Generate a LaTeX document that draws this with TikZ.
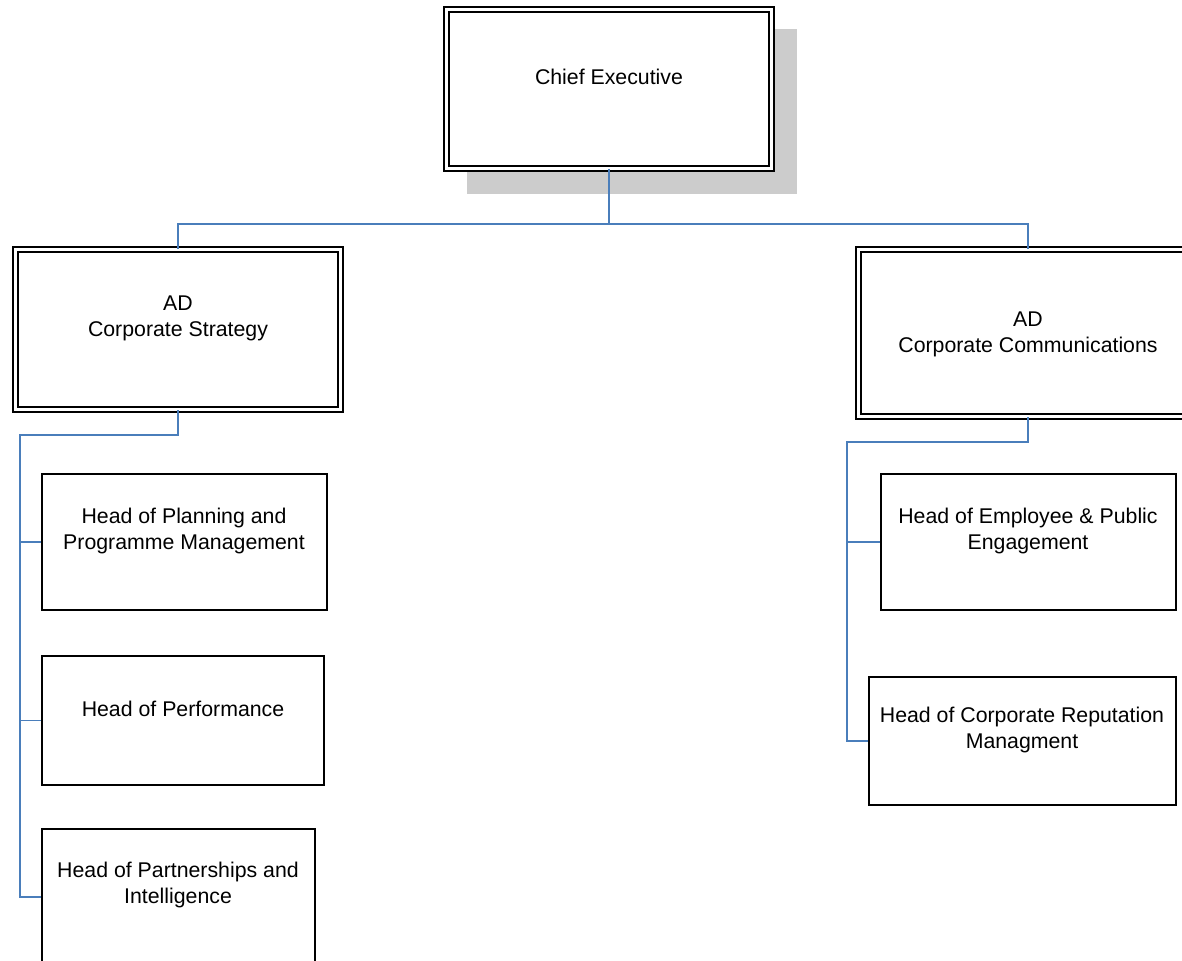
\documentclass[tikz,border=0pt]{standalone}
\usepackage{fontspec}
\setmainfont{Liberation Sans}
\begin{document}
\begin{tikzpicture}[x=0.5pt,y=-0.5pt,
  conn/.style={draw=linkblue,line width=0.75pt},
  dbox/.style={draw=black,line width=0.9pt,double=white,double distance=1.6pt,fill=white,inner sep=0pt},
  sbox/.style={draw=black,line width=0.9pt,fill=white,inner sep=0pt},
  lbl/.style={align=center,inner sep=0pt,font=\fontsize{10.65}{13}\selectfont}]
\definecolor{linkblue}{RGB}{74,126,187}
\definecolor{shadowgray}{RGB}{204,204,204}
\useasboundingbox (0,0) rectangle (1182,960);
\clip (0,0) rectangle (1182,960);
% shadow of top box
\fill[shadowgray] (467,29) rectangle (797,194);
% boxes
\node[dbox,minimum width=162.5pt,minimum height=79.5pt] (ce) at (609,89) {};
\node[dbox,minimum width=162.5pt,minimum height=80pt] (as) at (178,329.5) {};
\node[dbox,minimum width=169.5pt,minimum height=83.5pt] (ac) at (1028,333) {};
\node[sbox,minimum width=142.5pt,minimum height=68pt] (pl) at (184.5,542) {};
\node[sbox,minimum width=141pt,minimum height=64.5pt] (pf) at (183,720.5) {};
\node[sbox,minimum width=136.5pt,minimum height=68pt] (pi) at (178.5,897) {};
\node[sbox,minimum width=147.5pt,minimum height=68pt] (ee) at (1028.5,542) {};
\node[sbox,minimum width=153.5pt,minimum height=64pt] (cr) at (1022.5,741) {};
% texts
\node[lbl] (tce) at (609,76.5) {Chief Executive};
\node[lbl] (tas) at (178,318) {AD\\Corporate Strategy};
\node[lbl] (tac) at (1028,334) {AD\\Corporate Communications};
\node[lbl] (tpl) at (184,531) {Head of Planning and\\Programme Management};
\node[lbl] (tpf) at (183,708.5) {Head of Performance};
\node[lbl] (tpi) at (178,884.5) {Head of Partnerships and\\Intelligence};
\node[lbl] (tee) at (1028,531) {Head of Employee \& Public\\Engagement};
\node[lbl] (tcr) at (1022,729.5) {Head of Corporate Reputation\\Managment};
% connectors
\coordinate (bus) at (609,224);
\coordinate (lspine) at (20,435);
\coordinate (rspine) at (847,442);
\draw[conn] (ce.south) -- (ce.south |- bus) -| (as.north);
\draw[conn] (ce.south |- bus) -| (ac.north);
\draw[conn] (as.south) |- (lspine) -- (lspine |- pi.west) -- (pi.west);
\draw[conn] (lspine |- pl.west) -- (pl.west);
\draw[conn] (lspine |- pf.west) -- (pf.west);
\draw[conn] (ac.south) |- (rspine) -- (rspine |- cr.west) -- (cr.west);
\draw[conn] (rspine |- ee.west) -- (ee.west);
\end{tikzpicture}
\end{document}
